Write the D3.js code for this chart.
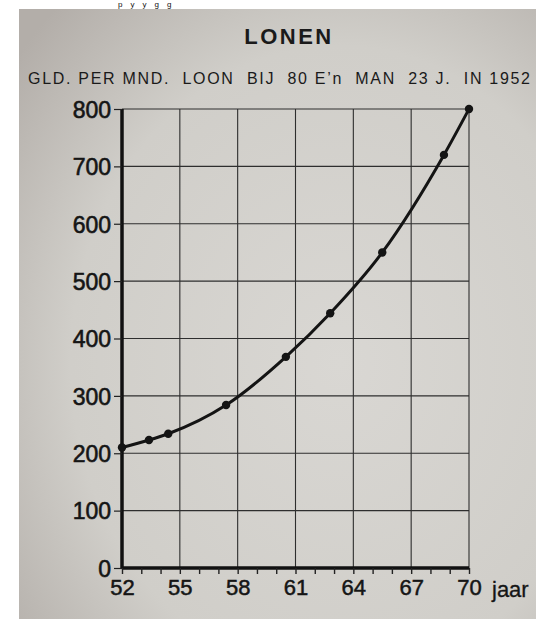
<!DOCTYPE html>
<html>
<head>
<meta charset="utf-8">
<script src="https://cdn.jsdelivr.net/npm/d3@7"></script>
<style>
  body { margin: 0; background: #ffffff; }
  svg { display: block; }
</style>
</head>
<body>
<svg class="lonen-chart" width="536" height="619"></svg>
<script>
// data
var years = [52, 53.4, 54.4, 57.4, 60.5, 62.8, 65.5, 68.7, 70];
var wages = [210, 223, 234, 284, 368, 444, 550, 720, 800];
var xTicks = [52, 55, 58, 61, 64, 67, 70];
var yTicks = [0, 100, 200, 300, 400, 500, 600, 700, 800];
var title = "LONEN";
var subtitle = "GLD. PER MND.  LOON  BIJ  80 E\u2019n  MAN  23 J.  IN 1952";

var svg = d3.select(".lonen-chart");
var margin = { top: 109, right: 67, bottom: 51, left: 122 },
  width = 536 - margin.left - margin.right,
  height = 619 - margin.top - margin.bottom;
var font = "Liberation Sans, Arial, sans-serif";

// photo background
var defs = svg.append("defs");
var grad = defs.append("radialGradient")
  .attr("id", "paper")
  .attr("cx", "62%").attr("cy", "58%").attr("r", "80%");
grad.append("stop").attr("offset", "0%").attr("stop-color", "#d9d7d3");
grad.append("stop").attr("offset", "65%").attr("stop-color", "#d0cec9");
grad.append("stop").attr("offset", "100%").attr("stop-color", "#b3aea9");

svg.append("rect")
  .attr("x", 19).attr("y", 9)
  .attr("width", 536 - 19).attr("height", 619 - 9)
  .attr("fill", "url(#paper)");

// bit of text from the page above
svg.append("text")
  .attr("x", 118).attr("y", 7)
  .attr("font-family", font)
  .attr("font-size", 8)
  .attr("letter-spacing", 8)
  .attr("fill", "#111")
  .text("pyygg");

svg.append("text")
  .attr("x", 289).attr("y", 44)
  .attr("text-anchor", "middle")
  .attr("font-family", font)
  .attr("font-weight", "bold")
  .attr("font-size", 22)
  .attr("letter-spacing", 2.5)
  .attr("fill", "#1a1a1a")
  .text(title);

svg.append("text")
  .attr("x", 28).attr("y", 84)
  .attr("font-family", font)
  .attr("font-size", 16)
  .attr("fill", "#1a1a1a")
  .attr("textLength", 502)
  .attr("lengthAdjust", "spacing")
  .attr("xml:space", "preserve")
  .style("white-space", "pre")
  .text(subtitle);

var x = d3.scaleLinear().domain([52, 70]).range([margin.left, margin.left + width]);
var y = d3.scaleLinear().domain([0, 800]).range([margin.top + height, margin.top]);

// grid
svg.append("g")
  .selectAll("line")
  .data(yTicks.slice(1))
  .enter().append("line")
  .attr("x1", x(52)).attr("x2", x(70))
  .attr("y1", function(d) { return y(d); })
  .attr("y2", function(d) { return y(d); })
  .attr("stroke", "#2e2e2e")
  .attr("stroke-width", 1.1);

svg.append("g")
  .selectAll("line")
  .data(xTicks.slice(1))
  .enter().append("line")
  .attr("x1", function(d) { return x(d); })
  .attr("x2", function(d) { return x(d); })
  .attr("y1", y(0)).attr("y2", y(800))
  .attr("stroke", "#2e2e2e")
  .attr("stroke-width", 1.1);

// y axis
var yAxis = svg.append("g")
  .attr("transform", "translate(" + x(52) + ",0)")
  .call(d3.axisLeft(y).tickValues(yTicks).tickSize(8).tickPadding(3).tickFormat(d3.format("d")));
yAxis.select(".domain").attr("stroke", "#111").attr("stroke-width", 3.5).attr("d", "M0," + y(0) + "V" + y(800));
yAxis.selectAll(".tick line").attr("stroke", "#222").attr("stroke-width", 1.2);
yAxis.selectAll(".tick text")
  .attr("font-family", font)
  .attr("font-size", 23)
  .attr("fill", "#151515")
  .attr("stroke", "#151515")
  .attr("stroke-width", 0.6)
  .attr("dy", "0.36em");

// x axis
var xAxis = svg.append("g")
  .attr("transform", "translate(0," + y(0) + ")")
  .call(d3.axisBottom(x).tickValues(d3.range(52, 71)).tickSize(6).tickPadding(5)
    .tickFormat(function(d) { return xTicks.indexOf(d) >= 0 ? d : ""; }));
xAxis.select(".domain").attr("stroke", "#111").attr("stroke-width", 3.5).attr("d", "M" + x(52) + ",0H" + x(70));
xAxis.selectAll(".tick line").attr("stroke", "#222").attr("stroke-width", 1.4);
xAxis.selectAll(".tick text")
  .attr("font-family", font)
  .attr("font-size", 22)
  .attr("fill", "#151515")
  .attr("stroke", "#151515")
  .attr("stroke-width", 0.5);

svg.append("text")
  .attr("x", x(70) + 23).attr("y", y(0) + 29)
  .attr("font-family", font)
  .attr("font-size", 22)
  .attr("fill", "#151515")
  .attr("stroke", "#151515")
  .attr("stroke-width", 0.3)
  .text("jaar");

// curve and points
var points = years.map(function(d, i) { return { year: d, value: wages[i] }; });
var line = d3.line()
  .x(function(d) { return x(d.year); })
  .y(function(d) { return y(d.value); })
  .curve(d3.curveMonotoneX);

svg.append("path")
  .datum(points)
  .attr("d", line)
  .attr("fill", "none")
  .attr("stroke", "#141414")
  .attr("stroke-width", 3);

svg.selectAll(".dot")
  .data(points)
  .enter().append("circle")
  .attr("class", "dot")
  .attr("cx", function(d) { return x(d.year); })
  .attr("cy", function(d) { return y(d.value); })
  .attr("r", 4.2)
  .attr("fill", "#141414");
</script>
</body>
</html>
